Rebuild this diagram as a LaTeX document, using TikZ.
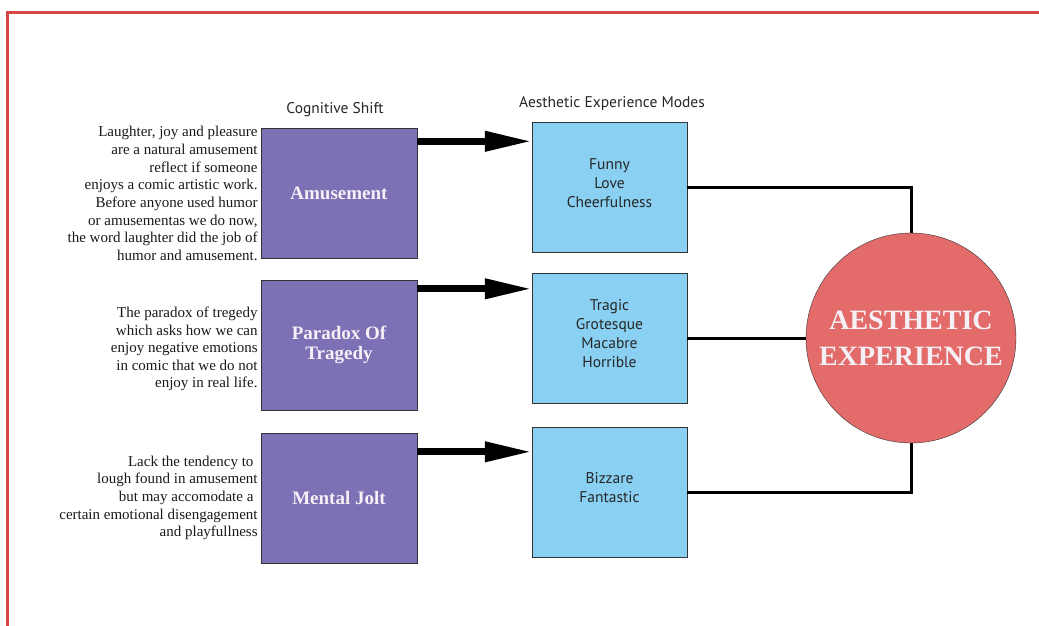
\documentclass[tikz,border=0pt]{standalone}
\usepackage{fontspec}
\setmainfont{Liberation Serif}
\newfontfamily\modefont{PT Sans}
\usetikzlibrary{positioning,arrows.meta}

\definecolor{shiftpurple}{RGB}{125,112,180}
\definecolor{modeblue}{RGB}{137,208,242}
\definecolor{expred}{RGB}{227,107,106}
\definecolor{framered}{RGB}{217,69,69}
\definecolor{labelwhite}{RGB}{244,240,246}

\tikzset{
  shiftbox/.style={draw=black!80, fill=shiftpurple, minimum width=156pt, minimum height=130pt,
    text=labelwhite, align=center, font=\fontsize{19}{20}\selectfont\bfseries},
  modebox/.style={draw=black!80, fill=modeblue, minimum width=155pt, minimum height=130pt,
    text=black!85, align=center, text depth=8pt, font=\modefont\fontsize{15.5}{19}\selectfont},
  desc/.style={inner sep=0pt, align=right, text=black!90, font=\fontsize{15}{17.6}\selectfont},
  heading/.style={inner sep=0pt, text=black!85, font=\modefont\fontsize{15.5}{18}\selectfont},
  bigarrow/.style={line width=7pt, -{Triangle[length=47pt,width=19pt]}},
  link/.style={line width=3pt}
}

\begin{document}
\begin{tikzpicture}[x=1pt,y=-1pt]

  % Page frame
  \useasboundingbox (0,0) rectangle (1039,626);
  \draw[framered, line width=3pt] (7,626) -- (7,13) -- (1039,13);

  % Cognitive shift column
  \node[heading] (shifthead) at (335,110) {Cognitive Shift};
  \node[shiftbox] (amuse) at (339,193.5) {Amusement};
  \node[shiftbox] (paradox) at (339,345) {Paradox Of\\Tragedy};
  \node[shiftbox] (jolt) at (339,498) {Mental Jolt};

  % Descriptions on the left
  \node[desc, left=3pt of amuse] (amusedesc) {Laughter, joy and pleasure\\are a natural amusement\\reflect if someone\\enjoys a comic artistic work.\\Before anyone used humor\\or amusementas we do now,\\the word laughter did the job of\\humor and amusement.};
  \node[desc, left=3pt of paradox, yshift=-4pt] (paradoxdesc) {The paradox of tregedy\\which asks how we can\\enjoy negative emotions\\in comic that we do not\\enjoy in real life.};
  \node[desc, left=3pt of jolt] (joltdesc) {Lack the tendency to\hphantom{i}\\lough found in amusement\\but may accomodate a\hphantom{i}\\certain emotional disengagement\\and playfullness};

  % Aesthetic experience modes
  \node[heading] (modehead) at (612,104) {Aesthetic Experience Modes};
  \node[modebox] (funny) at (609.5,187.5) {Funny\\Love\\Cheerfulness};
  \node[modebox] (tragic) at (609.5,338) {Tragic\\Grotesque\\Macabre\\Horrible};
  \node[modebox] (bizarre) at (609.5,492) {Bizzare\\Fantastic};

  % Aesthetic experience
  \node[circle, draw=black!80, fill=expred, minimum size=210pt, inner sep=0pt, text=labelwhite,
    align=center, font=\fontsize{28}{36}\selectfont\bfseries] (exp) at (911,338) {AESTHETIC\\EXPERIENCE};

  % Arrows shift -> mode
  \foreach \from/\to/\dy in {amuse/funny/13, paradox/tragic/9, jolt/bizarre/19}
    \draw[bigarrow] ([yshift=-\dy pt]\from.north east) -- ([yshift=-\dy pt]\from.north east -| \to.west);

  % Lines mode -> experience
  \draw[link] (funny.east) -| (exp.north);
  \draw[link] (tragic.east) -- (exp.west);
  \draw[link] (bizarre.east) -| (exp.south);

\end{tikzpicture}
\end{document}
